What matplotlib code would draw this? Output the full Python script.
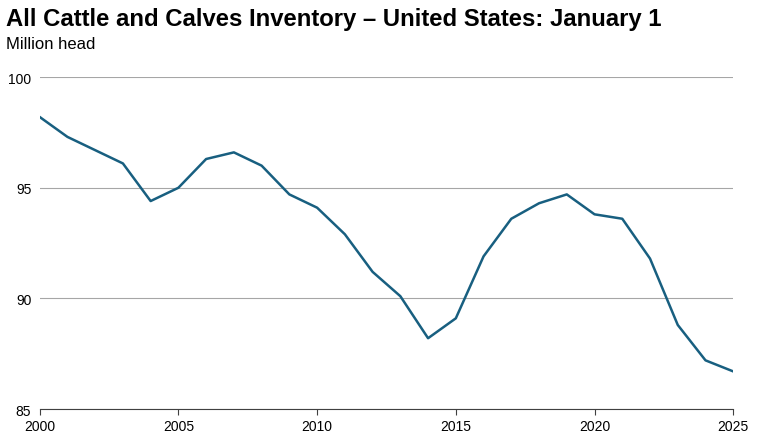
import matplotlib
matplotlib.use("Agg")
import matplotlib.pyplot as plt

plt.rcParams["font.family"] = "Liberation Sans"

YEARS = list(range(2000, 2026))
HEAD = [98.2, 97.3, 96.7, 96.1, 94.4, 95.0, 96.3, 96.6, 96.0, 94.7, 94.1, 92.9,
        91.2, 90.1, 88.2, 89.1, 91.9, 93.6, 94.3, 94.7, 93.8, 93.6, 91.8, 88.8,
        87.2, 86.7]
YTICKS = [85, 90, 95, 100]
XTICKS = [2000, 2005, 2010, 2015, 2020, 2025]

fig = plt.figure(figsize=(7.63, 4.39), dpi=100)
ax = fig.add_axes([0.052, 0.066, 0.909, 0.756])
ax.plot(YEARS, HEAD, color="#185f80", lw=1.8)
ax.set_xlim(2000, 2025)
ax.set_ylim(85, 100)
ax.set_yticks(YTICKS)
ax.set_xticks(XTICKS)
ax.yaxis.grid(True, color="#a6a6a6", lw=0.8)
ax.set_axisbelow(True)
for s in ["top", "right", "left"]:
    ax.spines[s].set_visible(False)
ax.spines["bottom"].set_color("#404040")
ax.tick_params(axis="y", length=0, labelsize=10, pad=6)
ax.tick_params(axis="x", length=4, labelsize=10, color="#404040")

fig.text(0.008, 0.955, "All Cattle and Calves Inventory \u2013 United States: January 1",
         fontsize=17.2, fontweight="bold", va="center")
fig.text(0.008, 0.898, "Million head", fontsize=12, va="center")

fig.savefig("out.png", dpi=100)
